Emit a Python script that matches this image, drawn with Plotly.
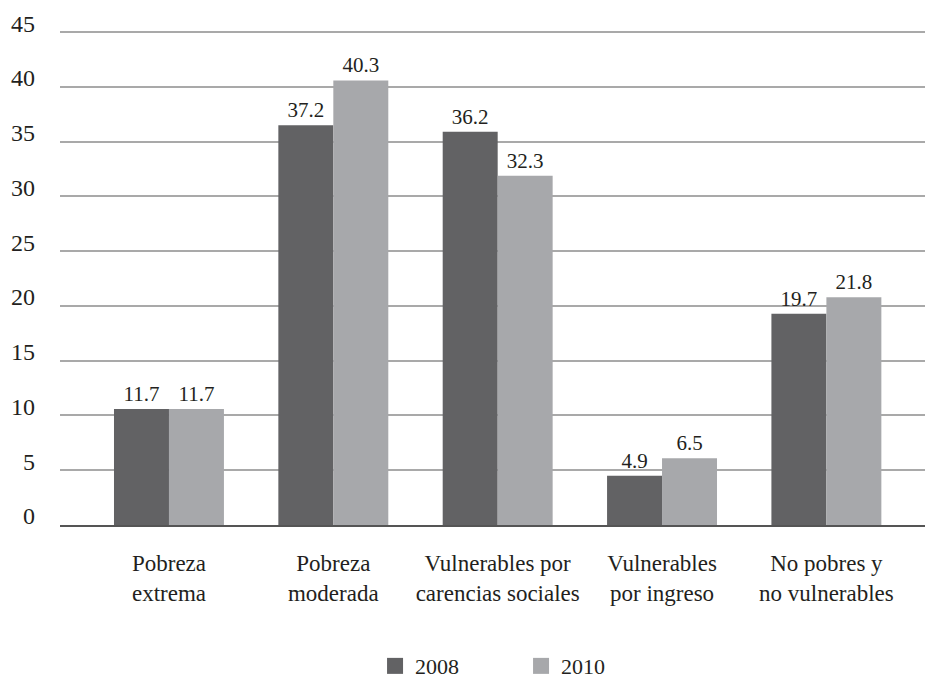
import plotly.graph_objects as go

categories = ["Pobreza<br>extrema", "Pobreza<br>moderada", "Vulnerables por<br>carencias sociales",
              "Vulnerables<br>por ingreso", "No pobres y<br>no vulnerables"]
series_names = ["2008", "2010"]
# bar heights as drawn in the picture
values_2008 = [10.6, 36.5, 35.9, 4.5, 19.3]
values_2010 = [10.6, 40.6, 31.9, 6.1, 20.8]
# printed labels
labels_2008 = ["11.7", "37.2", "36.2", "4.9", "19.7"]
labels_2010 = ["11.7", "40.3", "32.3", "6.5", "21.8"]
y_ticks = [0, 5, 10, 15, 20, 25, 30, 35, 40, 45]

dark = "#626264"
light = "#a7a8ab"
font_family = "Liberation Serif"
text_color = "#231f20"

fig = go.Figure()
fig.add_trace(go.Bar(x=categories, y=values_2008, text=labels_2008, name=series_names[0],
                     marker=dict(color=dark, line=dict(width=0)),
                     textposition="outside", textfont=dict(size=21, color=text_color, family=font_family),
                     cliponaxis=False, showlegend=False))
fig.add_trace(go.Bar(x=categories, y=values_2010, text=labels_2010, name=series_names[1],
                     marker=dict(color=light, line=dict(width=0)),
                     textposition="outside", textfont=dict(size=21, color=text_color, family=font_family),
                     cliponaxis=False, showlegend=False))
# legend entries
for nm, col in zip(series_names, [dark, light]):
    fig.add_trace(go.Scatter(x=[None], y=[None], mode="markers", name=nm,
                             marker=dict(symbol="square", size=19, color=col)))

fig.update_layout(
    width=925, height=680,
    margin=dict(l=60, r=0, t=30, b=155, autoexpand=False),
    paper_bgcolor="white", plot_bgcolor="white",
    barmode="group", bargap=0.331, bargroupgap=0,
    font=dict(family=font_family, size=22, color=text_color),
    showlegend=True,
    legend=dict(orientation="h", x=0.533, xanchor="center", y=-0.285, yanchor="middle",
                font=dict(size=22, color=text_color, family=font_family), entrywidth=101,
                entrywidthmode="pixels", itemsizing="trace"),
    xaxis=dict(range=[-0.663, 4.6], showline=True, linecolor="#555555", linewidth=2,
               ticks="", showgrid=False, automargin=False,
               tickfont=dict(size=23, color=text_color, family=font_family),
               ticklabelstandoff=16),
    yaxis=dict(range=[0, 45.2], tickvals=y_ticks, showgrid=True, gridcolor="#a9a9a9", gridwidth=1.5,
               zeroline=False, showline=False, ticks="", automargin=False,
               tickfont=dict(size=24, color=text_color, family=font_family),
               ticklabelstandoff=24, ticklabelshift=-9),
)
fig.write_html("out.html")
